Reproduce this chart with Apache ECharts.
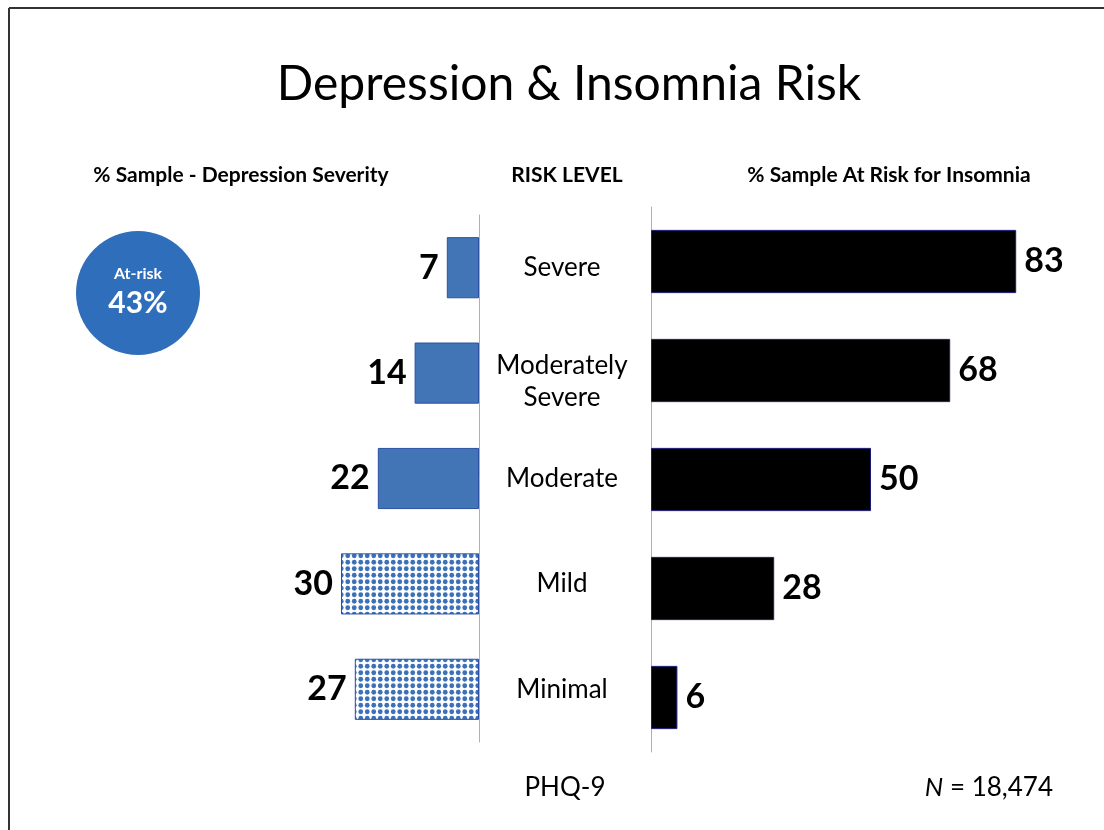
<!DOCTYPE html>
<html>
<head>
<meta charset="utf-8">
<script src="https://cdn.jsdelivr.net/npm/echarts@6/dist/echarts.min.js"></script>
<style>
html,body{margin:0;padding:0;background:#fff;}
#main{width:1104px;height:830px;}
</style>
</head>
<body>
<div id="main"></div>
<script>
const categories = ['Severe', 'Moderately\nSevere', 'Moderate', 'Mild', 'Minimal'];
const depressionPct = [7, 14, 22, 30, 27];
const insomniaPct = [83, 68, 50, 28, 6];
const atRiskPct = 43;
const sampleN = '18,474';

const FONT = 'Lato';

function dotPattern() {
  const c = document.createElement('canvas');
  c.width = 13; c.height = 13;
  const g = c.getContext('2d');
  g.fillStyle = '#ffffff';
  g.fillRect(0, 0, 13, 13);
  g.fillStyle = '#3d71b7';
  [[3.25, 3.25], [9.75, 3.25], [3.25, 9.75], [9.75, 9.75]].forEach(p => {
    g.beginPath();
    g.arc(p[0], p[1], 2.4, 0, Math.PI * 2);
    g.fill();
  });
  return c;
}
const pattern = { image: dotPattern(), repeat: 'repeat' };

const depData = depressionPct.map((v, i) => ({
  value: v,
  itemStyle: i >= 3 ? { color: pattern } : {}
}));

function catFormatter(v) {
  if (v.indexOf('\n') < 0) return '{c|' + v + '}';
  return '{s| }\n' + v.split('\n').map(t => '{c|' + t + '}').join('\n');
}

const chart = echarts.init(document.getElementById('main'));
chart.setOption({
  backgroundColor: '#ffffff',
  animation: false,
  textStyle: { fontFamily: FONT },
  title: [
    { text: 'Depression & Insomnia Risk', left: 564, top: 56, textAlign: 'center',
      textStyle: { fontFamily: FONT, fontSize: 48, fontWeight: 'normal', color: '#000' } },
    { text: '% Sample - Depression Severity', left: 236, top: 160, textAlign: 'center',
      textStyle: { fontFamily: FONT, fontSize: 21, fontWeight: 'bold', color: '#000' } },
    { text: 'RISK LEVEL', left: 562, top: 160, textAlign: 'center',
      textStyle: { fontFamily: FONT, fontSize: 21, fontWeight: 'bold', color: '#000' } },
    { text: '% Sample At Risk for Insomnia', left: 884, top: 160, textAlign: 'center',
      textStyle: { fontFamily: FONT, fontSize: 21, fontWeight: 'bold', color: '#000' } }
  ],
  grid: [
    { left: 295, right: 625, top: 215, height: 527 },
    { left: 651, right: 13, top: 207, height: 545 }
  ],
  xAxis: [
    { gridIndex: 0, type: 'value', min: 0, max: 40, inverse: true, show: false },
    { gridIndex: 1, type: 'value', min: 0, max: 100, show: false }
  ],
  yAxis: [
    { gridIndex: 0, type: 'category', data: categories, inverse: true, position: 'right',
      axisLine: { show: true, lineStyle: { color: '#b0b0b0', width: 1 } },
      axisTick: { show: false },
      axisLabel: { show: true, align: 'center', margin: 83, formatter: catFormatter,
        rich: {
          c: { fontFamily: FONT, fontSize: 26, color: '#000', lineHeight: 32, align: 'center' },
          s: { fontSize: 10, lineHeight: 18 }
        } } },
    { gridIndex: 1, type: 'category', data: categories, inverse: true, position: 'left',
      axisLine: { show: true, lineStyle: { color: '#b0b0b0', width: 1 } },
      axisTick: { show: false },
      axisLabel: { show: false } }
  ],
  series: [
    { type: 'bar', xAxisIndex: 0, yAxisIndex: 0, data: depData, barWidth: '58%',
      itemStyle: { color: '#4275b6', borderColor: '#2c4fa3', borderWidth: 1 },
      label: { show: true, position: 'left', distance: 8, fontFamily: FONT, fontSize: 34,
        fontWeight: 'bold', color: '#000' } },
    { type: 'bar', xAxisIndex: 1, yAxisIndex: 1, data: insomniaPct, barWidth: '58%',
      itemStyle: { color: '#000000', borderColor: '#1c1c7a', borderWidth: 1 },
      label: { show: true, position: 'right', distance: 8, fontFamily: FONT, fontSize: 34,
        fontWeight: 'bold', color: '#000' } }
  ],
  graphic: [
    { type: 'line', shape: { x1: 9, y1: 8, x2: 1104, y2: 8 }, style: { stroke: '#333', lineWidth: 2 } },
    { type: 'line', shape: { x1: 9, y1: 8, x2: 9, y2: 830 }, style: { stroke: '#333', lineWidth: 2 } },
    { type: 'circle', shape: { cx: 138, cy: 293, r: 62 }, style: { fill: '#2f6eba' } },
    { type: 'text', x: 138, y: 274, style: { text: 'At-risk', fill: '#fff', font: 'bold 16px ' + FONT,
      align: 'center', verticalAlign: 'middle' } },
    { type: 'text', x: 138, y: 303, style: { text: atRiskPct + '%', fill: '#fff', font: 'bold 30px ' + FONT,
      align: 'center', verticalAlign: 'middle' } },
    { type: 'text', x: 565, y: 788, style: { text: 'PHQ-9', fill: '#000', font: '26px ' + FONT,
      align: 'center', verticalAlign: 'middle' } },
    { type: 'text', x: 1053, y: 788, style: { text: '{i|N} = ' + sampleN, align: 'right', verticalAlign: 'middle',
      fill: '#000', font: '26px ' + FONT,
      rich: { i: { fontStyle: 'italic', fontSize: 26, fontFamily: FONT, fill: '#000' } } } }
  ]
});
</script>
</body>
</html>
